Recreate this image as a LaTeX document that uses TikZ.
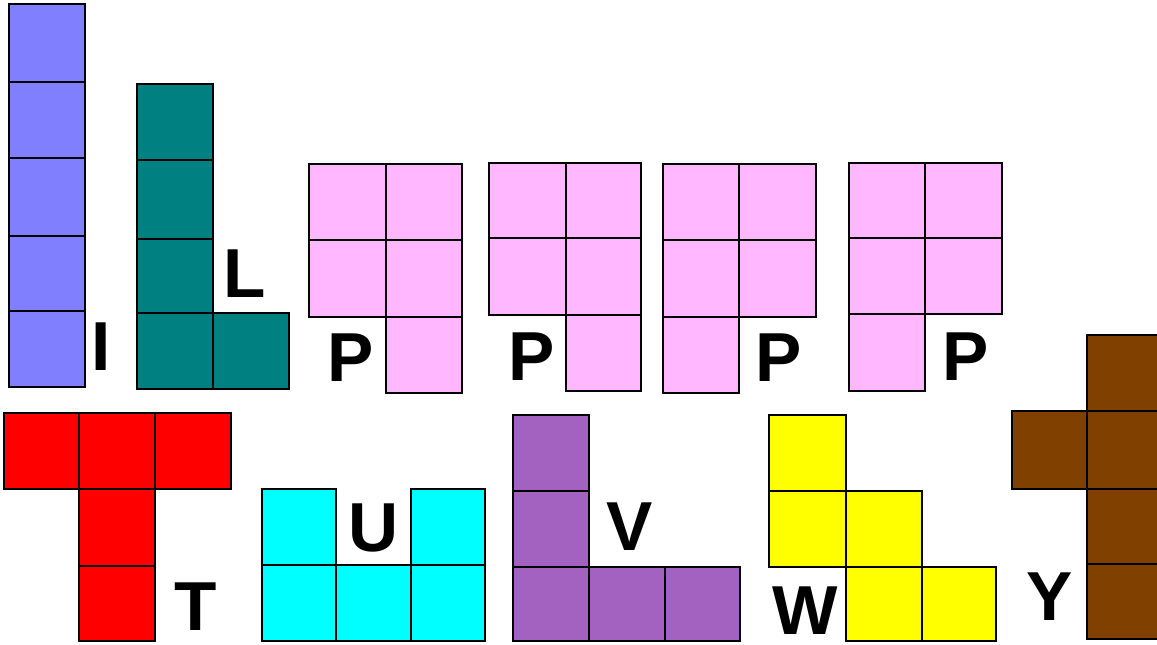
\documentclass[tikz,border=0pt]{standalone}
\usepackage{fontspec}
\setmainfont{Liberation Sans}
\definecolor{colI}{HTML}{8080FF}
\definecolor{colL}{HTML}{008080}
\definecolor{colP}{HTML}{FFB8FF}
\definecolor{colT}{HTML}{FF0000}
\definecolor{colU}{HTML}{00FFFF}
\definecolor{colV}{HTML}{A362BF}
\definecolor{colW}{HTML}{FFFF00}
\definecolor{colY}{HTML}{804000}
\newcommand\piececol{colI}
\newcommand\pcell[4]{\draw[cellline,fill=\piececol] (#1,#2) rectangle (#3,#4);}
\begin{document}
\begin{tikzpicture}[x=0.75pt,y=-0.75pt,
  cellline/.style={draw=black,line width=1.2pt,line join=miter},
  piecelabel/.style={inner sep=0pt,font=\fontsize{52}{52}\selectfont\bfseries}]
\useasboundingbox (0,0) rectangle (1157,644);
\fill[white] (0,0) rectangle (1157,644);
\begin{scope}
\clip (0,0) rectangle (1157,644);
% I
\renewcommand\piececol{colI}
\pcell{9}{4}{85}{82}\pcell{9}{82}{85}{158}\pcell{9}{158}{85}{236}\pcell{9}{236}{85}{311}\pcell{9}{311}{85}{387}
% L
\renewcommand\piececol{colL}
\pcell{137}{84}{213}{160}\pcell{137}{160}{213}{239}\pcell{137}{239}{213}{313}\pcell{137}{313}{213}{389}\pcell{213}{313}{289}{389}
% P pieces
\renewcommand\piececol{colP}
\pcell{309}{164}{386}{240}\pcell{386}{164}{462}{240}\pcell{309}{240}{386}{317}\pcell{386}{240}{462}{317}\pcell{386}{317}{462}{393}
\pcell{489}{163}{566}{238}\pcell{566}{163}{641}{238}\pcell{489}{238}{566}{315}\pcell{566}{238}{641}{315}\pcell{566}{315}{641}{391}
\pcell{663}{164}{739}{240}\pcell{739}{164}{816}{240}\pcell{663}{240}{739}{317}\pcell{739}{240}{816}{317}\pcell{663}{317}{739}{393}
\pcell{849}{163}{925}{238}\pcell{925}{163}{1002}{238}\pcell{849}{238}{925}{314}\pcell{925}{238}{1002}{314}\pcell{849}{314}{925}{391}
% T
\renewcommand\piececol{colT}
\pcell{4}{413}{79}{489}\pcell{79}{413}{155}{489}\pcell{155}{413}{231}{489}\pcell{79}{489}{155}{566}\pcell{79}{566}{155}{641}
% U
\renewcommand\piececol{colU}
\pcell{262}{489}{336}{565}\pcell{411}{489}{485}{565}\pcell{262}{565}{336}{641}\pcell{336}{565}{411}{641}\pcell{411}{565}{485}{641}
% V
\renewcommand\piececol{colV}
\pcell{513}{415}{589}{491}\pcell{513}{491}{589}{567}\pcell{513}{567}{589}{641}\pcell{589}{567}{665}{641}\pcell{665}{567}{740}{641}
% W
\renewcommand\piececol{colW}
\pcell{769}{415}{846}{491}\pcell{769}{491}{846}{567}\pcell{846}{491}{922}{567}\pcell{846}{567}{922}{641}\pcell{922}{567}{996}{641}
% Y
\renewcommand\piececol{colY}
\pcell{1087}{335}{1163}{411}\pcell{1012}{411}{1087}{489}\pcell{1087}{411}{1163}{489}\pcell{1087}{489}{1163}{564}\pcell{1087}{564}{1163}{639}
\end{scope}
% labels
\node[piecelabel] (lI) at (101.5,346.5) {I};
\node[piecelabel] (lL) at (245,274) {L};
\node[piecelabel] (lP1) at (351,358) {P};
\node[piecelabel] (lP2) at (532,357) {P};
\node[piecelabel] (lP3) at (779,358) {P};
\node[piecelabel] (lP4) at (966,357) {P};
\node[piecelabel] (lT) at (195.5,607) {T};
\node[piecelabel] (lU) at (373.5,528) {U};
\node[piecelabel] (lV) at (629.5,527) {V};
\node[piecelabel] (lW) at (805,611) {W};
\node[piecelabel] (lY) at (1050,597) {Y};
\end{tikzpicture}
\end{document}
